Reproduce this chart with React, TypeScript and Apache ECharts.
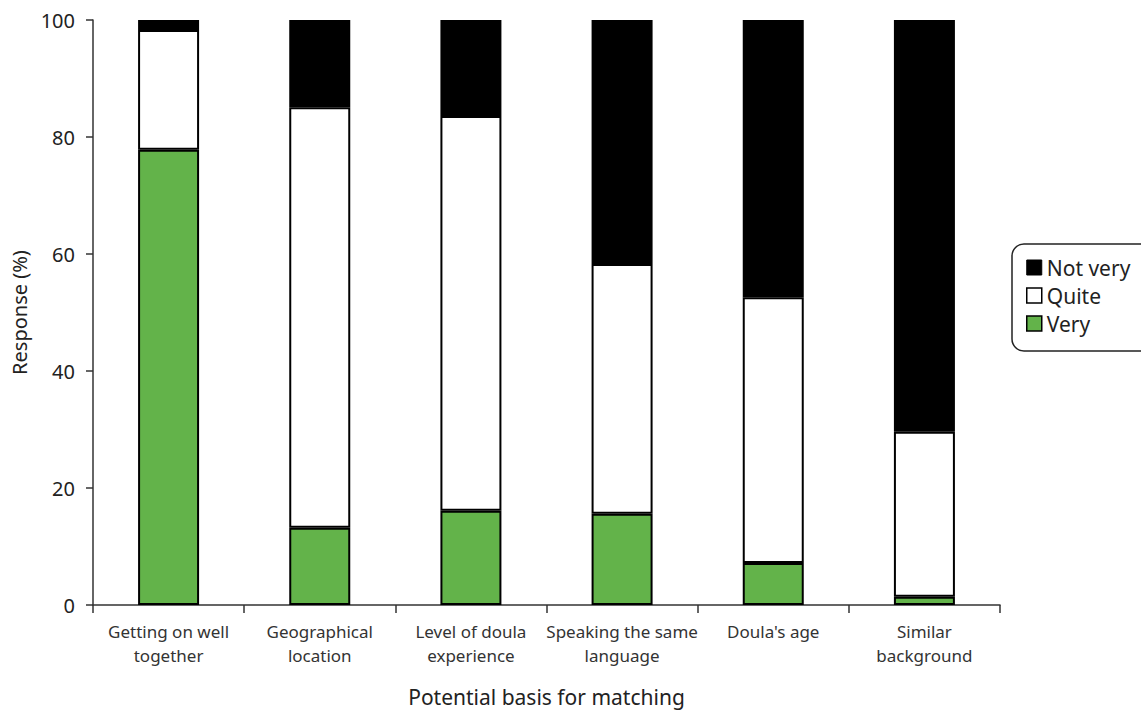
import React, { useEffect, useRef } from "react";
import * as echarts from "echarts";

const categories = [
  "Getting on well\ntogether",
  "Geographical\nlocation",
  "Level of doula\nexperience",
  "Speaking the same\nlanguage",
  "Doula's age",
  "Similar\nbackground",
];
const veryValues = [77.8, 13.2, 16.1, 15.6, 7.2, 1.4];
const quiteValues = [20.5, 71.9, 67.5, 42.7, 45.4, 28.2];
const notVeryValues = [1.7, 14.9, 16.4, 41.7, 47.4, 70.4];
const yTicks = [0, 20, 40, 60, 80, 100];

const FONT = "'Noto Sans', 'Open Sans', sans-serif";

export default function App() {
  const ref = useRef<HTMLDivElement>(null);
  useEffect(() => {
    if (!ref.current) return;
    const chart = echarts.init(ref.current, null, { renderer: "svg", width: 1141, height: 713 });
    const barStyle = (color: string) => ({
      color,
      borderColor: "#000",
      borderWidth: 2,
    });
    chart.setOption({
      animation: false,
      textStyle: { fontFamily: FONT },
      grid: { left: 93, right: 141, top: 20, bottom: 108, outerBoundsMode: "none", containLabel: false },
      legend: {
        orient: "vertical",
        left: 1012,
        top: 244,
        itemWidth: 15,
        itemHeight: 15,
        itemGap: 7,
        padding: [13, 40, 17, 14],
        borderColor: "#222",
        borderWidth: 1.5,
        borderRadius: 12,
        icon: "rect",
        textStyle: { fontSize: 21, color: "#222", fontFamily: FONT },
        data: [
          { name: "Not very", itemStyle: { borderColor: "#000", borderWidth: 1 } },
          { name: "Quite", itemStyle: { borderColor: "#000", borderWidth: 1.5 } },
          { name: "Very", itemStyle: { borderColor: "#000", borderWidth: 1.5 } },
        ],
      },
      xAxis: {
        type: "category",
        data: categories,
        name: "Potential basis for matching",
        nameLocation: "middle",
        nameGap: 80,
        nameTextStyle: { fontSize: 21, color: "#222", fontFamily: FONT, lineHeight: 24 },
        axisLine: { lineStyle: { color: "#333", width: 1.5 } },
        axisTick: { show: true, length: 8, lineStyle: { color: "#333", width: 1.5 } },
        axisLabel: {
          fontSize: 17,
          color: "#333",
          lineHeight: 24,
          margin: 14,
          interval: 0,
          fontFamily: FONT,
        },
      },
      yAxis: {
        type: "value",
        min: 0,
        max: 100,
        interval: 20,
        name: "Response (%)",
        nameLocation: "middle",
        nameGap: 61,
        nameTextStyle: { fontSize: 20, color: "#222", fontFamily: FONT },
        axisLine: { show: true, lineStyle: { color: "#333", width: 1.5 } },
        axisTick: { show: true, length: 7, lineStyle: { color: "#333", width: 1.5 } },
        splitLine: { show: false },
        axisLabel: {
          fontSize: 20,
          color: "#222",
          margin: 18,
          fontFamily: FONT,
          formatter: (v: number) => (yTicks.includes(v) ? String(v) : ""),
        },
      },
      series: [
        {
          name: "Very",
          type: "bar",
          stack: "total",
          barWidth: 61,
          data: veryValues,
          itemStyle: barStyle("#63b34a"),
        },
        {
          name: "Quite",
          type: "bar",
          stack: "total",
          barWidth: 61,
          data: quiteValues,
          itemStyle: barStyle("#ffffff"),
        },
        {
          name: "Not very",
          type: "bar",
          stack: "total",
          barWidth: 61,
          data: notVeryValues,
          itemStyle: barStyle("#000000"),
        },
      ],
    });
    return () => chart.dispose();
  }, []);
  return (
    <div
      ref={ref}
      style={{ width: 1141, height: 713, position: "absolute", left: 0, top: 0, background: "#fff" }}
    />
  );
}
